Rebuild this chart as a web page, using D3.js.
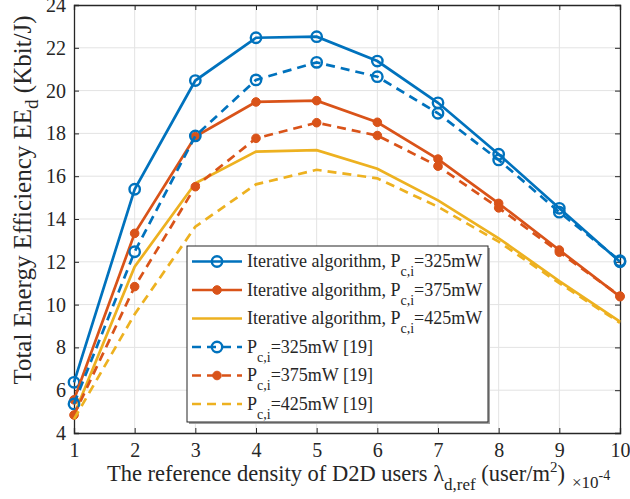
<!doctype html>
<html>
<head>
<style>
  body { margin: 0; background: #fff; }
  svg text { font-family: "Liberation Serif", "DejaVu Serif", serif; fill: #262626; }
</style>
<script src="https://d3js.org/d3.v7.min.js"></script>
</head>
<body>
<div id="chart"></div>
<script>

var density = [1, 2, 3, 4, 5, 6, 7, 8, 9, 10];
var iter325 = [6.37, 15.39, 20.47, 22.47, 22.52, 21.38, 19.43, 17.03, 14.50, 12.00];
var iter375 = [5.55, 13.33, 17.85, 19.47, 19.53, 18.52, 16.80, 14.73, 12.55, 10.37];
var iter425 = [4.85, 11.77, 15.67, 17.15, 17.22, 16.35, 14.87, 13.10, 11.10, 9.20];
var ref325 = [5.36, 12.47, 17.88, 20.50, 21.32, 20.65, 18.94, 16.76, 14.32, 12.05];
var ref375 = [4.84, 10.84, 15.51, 17.77, 18.50, 17.90, 16.47, 14.52, 12.45, 10.40];
var ref425 = [4.65, 9.55, 13.64, 15.62, 16.30, 15.90, 14.57, 12.94, 11.00, 9.15];
var xTicks = [1, 2, 3, 4, 5, 6, 7, 8, 9, 10];
var yTicks = [4, 6, 8, 10, 12, 14, 16, 18, 20, 22, 24];

var blue = "#0072BD", red = "#D95319", gold = "#EDB120";
var serif = "Liberation Serif";

var series = [
  {vals: iter325, color: blue, dash: null, marker: "open", label: "Iterative algorithm, P", tail: "=325mW"},
  {vals: iter375, color: red, dash: null, marker: "dot", label: "Iterative algorithm, P", tail: "=375mW"},
  {vals: iter425, color: gold, dash: null, marker: null, label: "Iterative algorithm, P", tail: "=425mW"},
  {vals: ref325, color: blue, dash: "9,6", marker: "open", label: "P", tail: "=325mW [19]"},
  {vals: ref375, color: red, dash: "9,6", marker: "dot", label: "P", tail: "=375mW [19]"},
  {vals: ref425, color: gold, dash: "9,6", marker: null, label: "P", tail: "=425mW [19]"}
];

var W = 630, H = 499;
var m = {left: 74, top: 5, right: 10, bottom: 66};
var w = W - m.left - m.right, h = H - m.top - m.bottom;

var svg = d3.select("#chart").append("svg")
  .attr("width", W).attr("height", H);

var g = svg.append("g").attr("transform", "translate(" + m.left + "," + m.top + ")");

var x = d3.scaleLinear().domain([1, 10]).range([0, w]);
var y = d3.scaleLinear().domain([4, 24]).range([h, 0]);

// grid
g.append("g").selectAll("line").data(xTicks.slice(1, -1)).enter().append("line")
  .attr("x1", function(d){ return x(d); }).attr("x2", function(d){ return x(d); })
  .attr("y1", 0).attr("y2", h)
  .attr("stroke", "#e3e3e3").attr("stroke-width", 1);
g.append("g").selectAll("line").data(yTicks.slice(1, -1)).enter().append("line")
  .attr("y1", function(d){ return y(d); }).attr("y2", function(d){ return y(d); })
  .attr("x1", 0).attr("x2", w)
  .attr("stroke", "#e3e3e3").attr("stroke-width", 1);

// axes (inner ticks, box)
var tk = 5;
var xb = g.append("g").attr("transform", "translate(0," + h + ")")
  .call(d3.axisBottom(x).tickValues(xTicks).tickSize(-tk).tickPadding(10));
var xt = g.append("g")
  .call(d3.axisTop(x).tickValues(xTicks).tickSize(-tk).tickFormat(""));
var yl = g.append("g")
  .call(d3.axisLeft(y).tickValues(yTicks).tickSize(-tk).tickPadding(8));
var yr = g.append("g").attr("transform", "translate(" + w + ",0)")
  .call(d3.axisRight(y).tickValues(yTicks).tickSize(-tk).tickFormat(""));
[xb, xt, yl, yr].forEach(function(a){
  a.attr("font-family", serif).attr("font-size", 20);
  a.select(".domain").attr("stroke", "#262626").attr("stroke-width", 1.3);
  a.selectAll(".tick line").attr("stroke", "#262626").attr("stroke-width", 1);
  a.selectAll(".tick text").attr("fill", "#262626");
});

// lines
var line = d3.line().x(function(d, i){ return x(density[i]); }).y(function(d){ return y(d); });

function drawMarker(sel, s, cx, cy) {
  if (s.marker === "open") {
    sel.append("circle").attr("cx", cx).attr("cy", cy).attr("r", 5.2)
      .attr("fill", "none").attr("stroke", s.color).attr("stroke-width", 2.4);
  } else if (s.marker === "dot") {
    sel.append("circle").attr("cx", cx).attr("cy", cy).attr("r", 4.3)
      .attr("fill", s.color).attr("stroke", s.color).attr("stroke-width", 1);
  }
}

series.forEach(function(s){
  g.append("path").datum(s.vals).attr("d", line)
    .attr("fill", "none").attr("stroke", s.color).attr("stroke-width", 2.7)
    .attr("stroke-dasharray", s.dash);
  var mg = g.append("g");
  s.vals.forEach(function(v, i){ drawMarker(mg, s, x(density[i]), y(v)); });
});

// legend
var lg = svg.append("g").attr("transform", "translate(187,246)");
var lw = 301, lh = 176;
lg.append("rect").attr("x", 2).attr("y", 2).attr("width", lw).attr("height", lh).attr("fill", "#a0a0a0");
lg.append("rect").attr("width", lw).attr("height", lh).attr("fill", "#fff")
  .attr("stroke", "#262626").attr("stroke-width", 1);
series.forEach(function(s, i){
  var ry = 15.5 + i * 28.5;
  var row = lg.append("g").attr("transform", "translate(0," + ry + ")");
  row.append("line").attr("x1", 5).attr("x2", 55).attr("y1", 0).attr("y2", 0)
    .attr("stroke", s.color).attr("stroke-width", 2.7).attr("stroke-dasharray", s.dash);
  drawMarker(row, s, 30, 0);
  var t = row.append("text").attr("x", 60).attr("y", 5.5)
    .attr("font-family", serif).attr("font-size", 18);
  t.append("tspan").text(s.label);
  t.append("tspan").attr("dy", 9).attr("font-size", 14).text("c,i");
  t.append("tspan").attr("dy", -9).text(s.tail);
});

// x label
var xlab = svg.append("text").attr("x", 107).attr("y", 481)
  .attr("font-family", serif).attr("font-size", 22.5);
xlab.append("tspan").text("The reference density of D2D users ");
xlab.append("tspan").text("λ");
xlab.append("tspan").attr("dy", 8.5).attr("font-size", 17).text("d,ref");
xlab.append("tspan").attr("dy", -8.5).text(" (user/m");
xlab.append("tspan").attr("dy", -9).attr("font-size", 15).text("2");
xlab.append("tspan").attr("dy", 9).text(")");

var ex = svg.append("text").attr("x", 572).attr("y", 488)
  .attr("font-family", serif).attr("font-size", 17);
ex.append("tspan").text("×10");
ex.append("tspan").attr("dy", -8).attr("font-size", 14).text("-4");

// y label
var ylab = svg.append("text").attr("transform", "translate(31,200) rotate(-90)")
  .attr("text-anchor", "middle").attr("font-family", serif).attr("font-size", 25);
ylab.append("tspan").text("Total Energy Efficiency EE");
ylab.append("tspan").attr("dy", 7).attr("font-size", 19).text("d");
ylab.append("tspan").attr("dy", -7).text(" (Kbit/J)");

</script>
</body>
</html>
